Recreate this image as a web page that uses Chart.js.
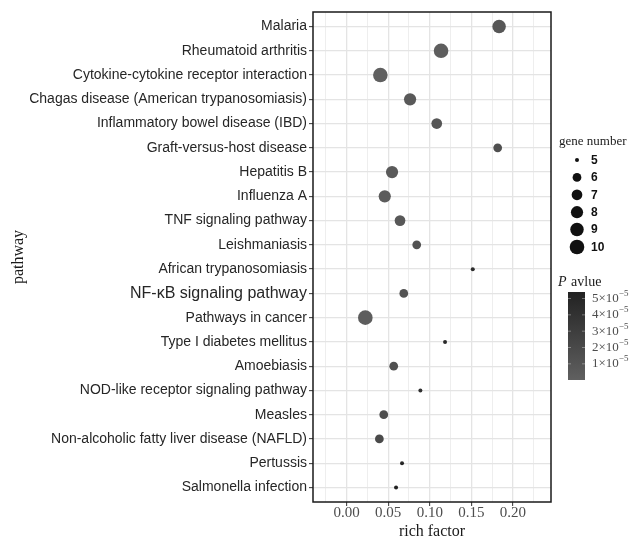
<!DOCTYPE html>
<html>
<head>
<meta charset="utf-8">
<script src="https://cdn.jsdelivr.net/npm/chart.js@4.4.1/dist/chart.umd.min.js"></script>
<style>
  html, body { margin: 0; padding: 0; background: #fff; }
</style>
</head>
<body>
<canvas id="myChart" width="634" height="538"></canvas>
<script>
// pathways, top to bottom
const pathways = [
    'Malaria', 'Rheumatoid arthritis', 'Cytokine-cytokine receptor interaction',
    'Chagas disease (American trypanosomiasis)', 'Inflammatory bowel disease (IBD)',
    'Graft-versus-host disease', 'Hepatitis B', 'Influenza A', 'TNF signaling pathway',
    'Leishmaniasis', 'African trypanosomiasis', 'NF-\u03BAB signaling pathway',
    'Pathways in cancer', 'Type I diabetes mellitus', 'Amoebiasis',
    'NOD-like receptor signaling pathway', 'Measles',
    'Non-alcoholic fatty liver disease (NAFLD)', 'Pertussis', 'Salmonella infection'
];
const richFactor = [0.1835, 0.1136, 0.0405, 0.0763, 0.1084, 0.1818, 0.0546, 0.0458, 0.0642, 0.0843,
                    0.1518, 0.0687, 0.0224, 0.1184, 0.0566, 0.0887, 0.0446, 0.0393, 0.0666, 0.0594];
const geneNumber = [9, 10, 10, 8, 7, 6, 8, 8, 7, 6,
                    5, 6, 10, 5, 6, 5, 6, 6, 5, 5];
const pValue = [0.8e-5, 0.2e-5, 0.01e-5, 0.6e-5, 0.9e-5, 1.5e-5, 0.5e-5, 0.4e-5, 0.7e-5, 1.2e-5,
                4.5e-5, 1.1e-5, 0.3e-5, 4.8e-5, 1.3e-5, 4.2e-5, 1.7e-5, 1.9e-5, 5.0e-5, 5.4e-5];

const xMajor = [0, 0.05, 0.10, 0.15, 0.20];
const xMinor = [-0.025, 0.025, 0.075, 0.125, 0.175, 0.225];
const geneLegend = [5, 6, 7, 8, 9, 10];
const pLegend = [5, 4, 3, 2, 1]; // x 10^-5

const gMin = Math.min(...geneNumber), gMax = Math.max(...geneNumber);
const pMin = Math.min(...pValue), pMax = Math.max(...pValue);

function sizeOf(n) {
    return 2 + 5.3 * Math.sqrt((n - gMin) / (gMax - gMin));
}
function colourOf(p) {
    const t = (p - pMin) / (pMax - pMin);
    const lo = 96, hi = 34;
    const v = Math.round(lo + (hi - lo) * t);
    return `rgb(${v},${v},${v})`;
}
const isMajor = v => xMajor.some(m => Math.abs(m - v) < 1e-9);

const sideLegend = {
    id: 'sideLegend',
    afterDraw(chart) {
        const c = chart.ctx;
        const a = chart.chartArea;
        c.save();
        // panel border
        c.strokeStyle = '#1a1a1a';
        c.lineWidth = 1.5;
        c.strokeRect(a.left, a.top, a.right - a.left, a.bottom - a.top);

        // gene number legend
        c.textBaseline = 'middle';
        c.textAlign = 'left';
        c.fillStyle = '#1a1a1a';
        c.font = '13px "Liberation Serif"';
        c.fillText('gene number', 559, 142);
        geneLegend.forEach((n, i) => {
            const y = 160 + i * 17.4;
            c.beginPath();
            c.arc(577, y, sizeOf(n), 0, Math.PI * 2);
            c.fillStyle = '#111';
            c.fill();
            c.font = 'bold 12px "Liberation Sans"';
            c.fillText(String(n), 591, y + 0.5);
        });

        // P value colour bar
        c.fillStyle = '#1a1a1a';
        c.font = 'italic 14px "Liberation Serif"';
        c.fillText('P', 558, 282);
        const pw = c.measureText('P ').width;
        c.font = '14px "Liberation Serif"';
        c.fillText('avlue', 558 + pw + 1, 282);

        const bx = 568, bw = 17, top = 292, bottom = 380;
        const grad = c.createLinearGradient(0, top, 0, bottom);
        grad.addColorStop(0, colourOf(pMax));
        grad.addColorStop(1, colourOf(pMin));
        c.fillStyle = grad;
        c.fillRect(bx, top, bw, bottom - top);

        pLegend.forEach(k => {
            const y = bottom - (k * 1e-5 - pMin) / (pMax - pMin) * (bottom - top);
            c.strokeStyle = 'rgba(255,255,255,0.35)';
            c.lineWidth = 1;
            c.beginPath();
            c.moveTo(bx, y); c.lineTo(bx + 3, y);
            c.moveTo(bx + bw - 3, y); c.lineTo(bx + bw, y);
            c.stroke();
            c.fillStyle = '#4d4d4d';
            c.font = '13px "Liberation Serif"';
            const txt = k + '\u00D710';
            c.fillText(txt, 592, y);
            const tw = c.measureText(txt).width;
            c.font = '9px "Liberation Serif"';
            c.fillText('\u22125', 592 + tw, y - 5);
        });
        c.restore();
    }
};

const ctx = document.getElementById('myChart').getContext('2d');
new Chart(ctx, {
    type: 'scatter',
    data: {
        datasets: [{
            data: richFactor.map((x, i) => ({ x: x, y: i + 1 })),
            pointRadius: c => sizeOf(geneNumber[c.dataIndex]),
            pointHoverRadius: c => sizeOf(geneNumber[c.dataIndex]),
            backgroundColor: c => colourOf(pValue[c.dataIndex]),
            borderWidth: 0
        }]
    },
    options: {
        responsive: false,
        animation: false,
        layout: { padding: { left: 0, right: 83, top: 12, bottom: 0 } },
        plugins: { legend: { display: false }, tooltip: { enabled: false } },
        scales: {
            x: {
                type: 'linear',
                min: -0.0406,
                max: 0.246,
                afterBuildTicks: s => {
                    s.ticks = [...xMinor, ...xMajor].sort((p, q) => p - q).map(v => ({ value: v }));
                },
                afterFit: s => { s.height = 36; },
                border: { display: false },
                grid: {
                    color: c => isMajor(c.tick.value) ? '#e4e4e4' : '#eeeeee',
                    lineWidth: c => isMajor(c.tick.value) ? 1.3 : 1,
                    tickColor: c => isMajor(c.tick.value) ? '#333' : 'rgba(0,0,0,0)',
                    tickLength: 4,
                    tickWidth: 1
                },
                ticks: {
                    autoSkip: false,
                    maxRotation: 0,
                    padding: 0,
                    color: '#4d4d4d',
                    font: { family: '"Liberation Serif"', size: 15, lineHeight: 1 },
                    callback: v => isMajor(v) ? v.toFixed(2) : ''
                },
                title: {
                    display: true,
                    text: 'rich factor',
                    color: '#1a1a1a',
                    padding: 0,
                    font: { family: '"Liberation Serif"', size: 16, lineHeight: 0.8 }
                }
            },
            y: {
                type: 'linear',
                reverse: true,
                min: 0.4,
                max: 20.6,
                afterBuildTicks: s => {
                    s.ticks = pathways.map((p, i) => ({ value: i + 1 }));
                },
                afterFit: s => { s.width = 313; },
                border: { display: false },
                grid: {
                    color: '#e4e4e4',
                    lineWidth: 1.3,
                    tickColor: '#333',
                    tickLength: 4,
                    tickWidth: 1
                },
                ticks: {
                    autoSkip: false,
                    padding: 2,
                    color: '#262626',
                    font: c => ({
                        family: '"Liberation Sans"',
                        size: c.index === 11 ? 16 : 14
                    }),
                    callback: v => pathways[v - 1]
                },
                title: {
                    display: true,
                    text: 'pathway',
                    color: '#1a1a1a',
                    padding: { top: 9, bottom: 0 },
                    font: { family: '"Liberation Serif"', size: 16 }
                }
            }
        }
    },
    plugins: [sideLegend]
});
</script>
</body>
</html>
